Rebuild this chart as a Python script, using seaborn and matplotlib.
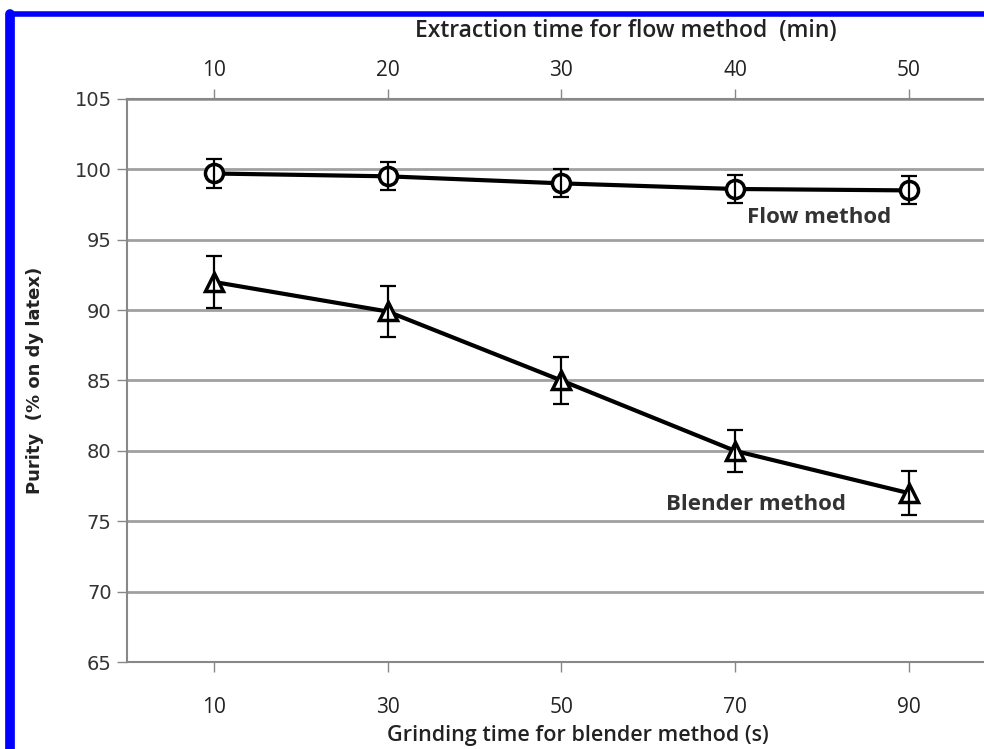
import matplotlib
matplotlib.use("Agg")
import matplotlib.pyplot as plt
import seaborn as sns
import pandas as pd
from matplotlib.lines import Line2D

# values
blender_time = [10, 30, 50, 70, 90]
flow_time = [10, 20, 30, 40, 50]
flow_purity = [99.7, 99.5, 99.0, 98.6, 98.5]
flow_err = [1.0, 1.0, 1.0, 1.0, 1.0]
blender_purity = [92.0, 89.9, 85.0, 80.0, 77.0]
blender_err = [1.85, 1.8, 1.7, 1.5, 1.55]
y_ticks = [65, 70, 75, 80, 85, 90, 95, 100, 105]

pos = list(range(len(blender_time)))
df = pd.DataFrame({
    "pos": pos * 2,
    "purity": flow_purity + blender_purity,
    "err": flow_err + blender_err,
    "method": ["Flow method"] * 5 + ["Blender method"] * 5,
})

sns.set_theme(style="white")
plt.rcParams["font.family"] = ["Open Sans", "DejaVu Sans"]

fig = plt.figure(figsize=(9.84, 7.49), dpi=100)
ax = fig.add_axes([0.129, 0.116, 0.883, 0.752])

sns.lineplot(data=df, x="pos", y="purity", style="method",
             markers={"Flow method": "o", "Blender method": "^"},
             dashes=False, color="black", linewidth=3, markersize=13,
             markerfacecolor="white", markeredgecolor="black",
             markeredgewidth=2.5, legend=False, ax=ax, zorder=3)

for name, g in df.groupby("method"):
    ax.errorbar(g["pos"], g["purity"], yerr=g["err"], fmt="none",
                ecolor="black", elinewidth=1.6, capsize=6, capthick=1.6,
                zorder=4)

ax.set_xlim(-0.5, 4.5)
ax.set_ylim(65, 105)
ax.set_yticks(y_ticks)
ax.set_yticklabels([str(v) for v in y_ticks], family="DejaVu Sans",
                   fontsize=14, color="#333333")
ax.yaxis.grid(True, color="#a0a0a0", linewidth=2)
ax.xaxis.grid(False)
ax.set_axisbelow(True)

ax.set_xticks(pos)
ax.set_xticklabels([str(v) for v in blender_time], fontsize=15,
                   color="#222222")
ax.tick_params(axis="x", direction="out", length=7, width=1,
               color="#888888", bottom=True, pad=18)
ax.tick_params(axis="y", direction="out", length=7, width=1,
               color="#888888", left=True, pad=4)
ax.set_xlabel("Grinding time for blender method (s)", fontsize=15.5,
              fontweight="semibold", color="#222222")
ax.xaxis.set_label_coords(0.519, -0.112)
ax.set_ylabel("Purity  (% on dy latex)", fontsize=13, fontweight="bold",
              family="DejaVu Sans", color="#222222", labelpad=22)

for side in ["left", "bottom", "top"]:
    ax.spines[side].set_color("#888888")
    ax.spines[side].set_linewidth(1.5)
ax.spines["right"].set_visible(False)

top = ax.secondary_xaxis("top")
top.set_xticks(pos)
top.set_xticklabels([str(v) for v in flow_time], fontsize=15,
                    color="#222222")
top.tick_params(direction="out", length=7, width=1, color="#888888",
                pad=6)
top.spines["top"].set_visible(False)
ax.text(0.574, 1.12, "Extraction time for flow method  (min)",
        transform=ax.transAxes, fontsize=16.5, fontweight="semibold",
        color="#222222", ha="center", va="center")

ax.text(3.07, 96.6, "Flow method", fontsize=16, fontweight="bold",
        color="#333333", ha="left", va="center")
ax.text(2.6, 76.2, "Blender method", fontsize=16, fontweight="bold",
        color="#333333", ha="left", va="center")

# blue frame along the top and left edges
fig.add_artist(Line2D([0.0105, 1.0], [0.981, 0.981], color="#0000ff",
                      linewidth=4, transform=fig.transFigure))
fig.add_artist(Line2D([0.0105, 0.0105], [0.0, 0.981], color="#0000ff",
                      linewidth=7, transform=fig.transFigure))

fig.savefig("out.png", dpi=100)
